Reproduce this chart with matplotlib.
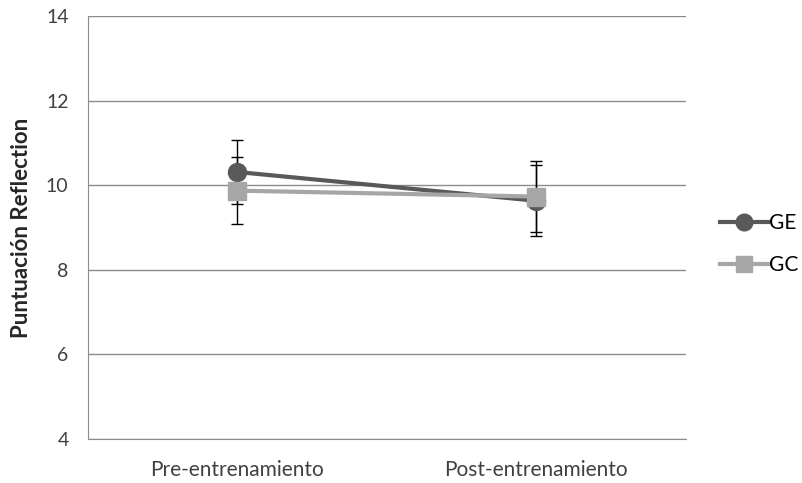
import matplotlib
matplotlib.use("Agg")
import matplotlib.pyplot as plt
from matplotlib.lines import Line2D

plt.rcParams['font.family'] = ['Lato', 'DejaVu Sans']

fases = ["Pre-entrenamiento", "Post-entrenamiento"]
ge_media = [10.31, 9.63]
ge_error = [0.76, 0.84]
gc_media = [9.87, 9.73]
gc_error = [0.80, 0.83]
yticks = [4, 6, 8, 10, 12, 14]

fig = plt.figure(figsize=(8.03, 4.83), dpi=100)
ax = fig.add_axes([0.1096, 0.0911, 0.7444, 0.876])

x = list(range(len(fases)))
ax.errorbar(x, ge_media, yerr=ge_error, fmt="none", ecolor="black",
            elinewidth=1, capsize=4.5, capthick=1, zorder=3)
ax.errorbar(x, gc_media, yerr=gc_error, fmt="none", ecolor="black",
            elinewidth=1, capsize=4.5, capthick=1, zorder=3)
ax.plot(x, ge_media, color="#595959", lw=3, marker="o", ms=13, zorder=4)
ax.plot(x, gc_media, color="#a6a6a6", lw=3, marker="s", ms=12.5, zorder=5)

ax.set_xlim(-0.5, 1.5)
ax.set_ylim(4, 14)
ax.set_yticks(yticks)
ax.set_xticks(x)
ax.set_xticklabels(fases)
ax.tick_params(length=0, colors="#404040")
ax.tick_params(axis="x", labelsize=15, pad=15)
ax.tick_params(axis="y", labelsize=14, pad=14)
ax.yaxis.grid(True, color="#8c8c8c", lw=1)
ax.set_axisbelow(True)
for s in ["top", "right"]:
    ax.spines[s].set_visible(False)
for s in ["left", "bottom"]:
    ax.spines[s].set_color("#8c8c8c")
ax.set_ylabel("Puntuación Reflection", fontsize=16, fontweight="bold",
              color="#262626", labelpad=10)

handles = [Line2D([], [], color="#595959", lw=3, marker="o", ms=12),
           Line2D([], [], color="#a6a6a6", lw=3, marker="s", ms=11.5)]
fig.legend(handles, ["GE", "GC"], loc="center left", bbox_to_anchor=(0.897, 0.494),
           frameon=False, fontsize=15, handlelength=2.3, handletextpad=0.05,
           labelspacing=1.05, borderpad=0, borderaxespad=0)

fig.savefig("out.png")
